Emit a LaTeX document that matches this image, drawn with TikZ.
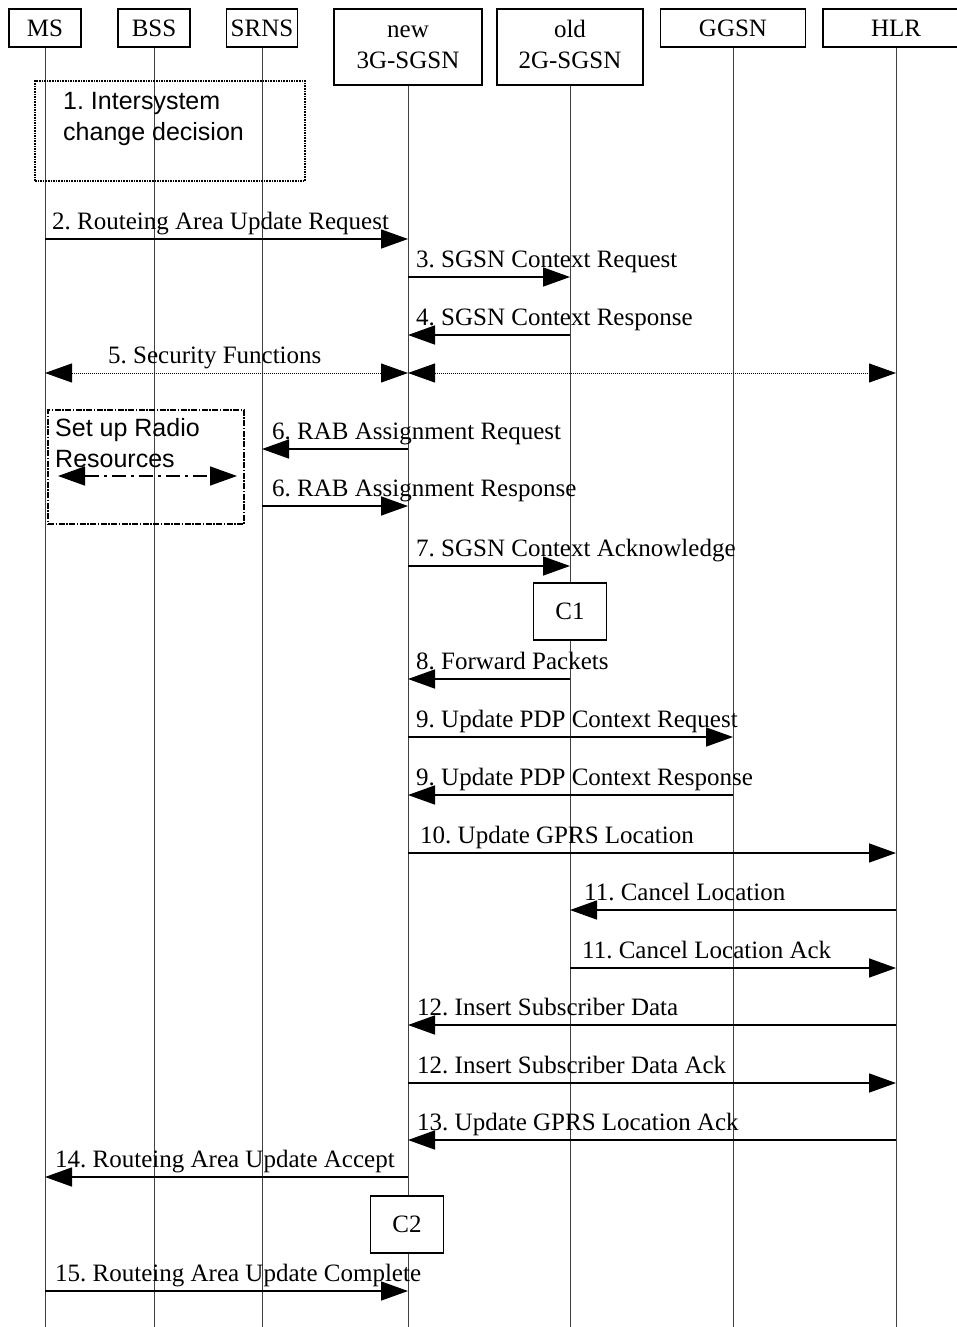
\documentclass[tikz,border=0pt]{standalone}
\usepackage{fontspec}
\setmainfont{Liberation Serif}
\newfontfamily\arialfont{Liberation Sans}
\usetikzlibrary{arrows.meta, positioning, calc}

\tikzset{
  actor/.style={draw, line width=1.6pt, fill=white, minimum height=38pt, align=center, inner sep=0pt},
  lifeline/.style={draw=black!75, line width=1pt},
  msg/.style={line width=1.6pt, -{Triangle[length=27pt, width=19pt]}},
  bothmsg/.style={line width=1pt, densely dotted, {Triangle[length=27pt, width=19pt]}-{Triangle[length=27pt, width=19pt]}},
  lbl/.style={inner sep=0pt, anchor=base west},
  cbox/.style={draw, line width=1.6pt, fill=white, minimum width=73pt, minimum height=57pt}
}

\begin{document}
\frenchspacing
\begin{tikzpicture}[x=1pt, y=-1pt, font=\fontsize{25}{31}\selectfont]
\clip (0,0) rectangle (957,1327);
\fill[white] (0,0) rectangle (957,1327);

% Network elements
\node[actor, minimum width=72pt] (ms) at (45,28) {MS};
\node[actor, minimum width=72pt] (bss) at (154,28) {BSS};
\node[actor, minimum width=71pt] (srns) at (262,28) {SRNS};
\node[actor, minimum width=148pt, minimum height=76pt] (nsgsn) at (408,47) {\strut new\\\strut 3G-SGSN};
\node[actor, minimum width=146pt, minimum height=76pt] (osgsn) at (570,47) {\strut old\\\strut 2G-SGSN};
\node[actor, minimum width=145pt] (ggsn) at (733,28) {GGSN};
\node[actor, minimum width=146pt] (hlr) at (896,28) {HLR};

% Life lines
\foreach \n in {ms,bss,srns,nsgsn,osgsn,ggsn,hlr} {
  \coordinate (\n-end) at (\n |- 0,1327);
  \draw[lifeline] (\n.south) -- (\n-end);
}

% 1. Intersystem change decision
\node[draw, line width=1.6pt, densely dotted, minimum width=270pt, minimum height=100pt] (decbox) at (170,131) {};
\node[inner sep=0pt, anchor=north west, align=left, font=\arialfont\fontsize{25}{31}\selectfont] (dectext) at (63,92) {1. Intersystem\\change decision};

% Set up Radio Resources
\node[draw, line width=1.4pt, dash pattern=on 6pt off 1.5pt on 1.5pt off 1.5pt, minimum width=196pt, minimum height=114pt] (radiobox) at (146,467) {};
\node[inner sep=0pt, anchor=north west, align=left, font=\arialfont\fontsize{25}{31}\selectfont] (radiotext) at (55,418) {Set up Radio\\Resources};
\coordinate (radioL) at (58,476);
\coordinate (radioR) at (237,476);
\draw[line width=1.6pt, dash pattern=on 14pt off 5pt on 3pt off 5pt,
  {Triangle[length=27pt, width=19pt]}-{Triangle[length=27pt, width=19pt]}] (radioL) -- (radioR);

% Messages: from/to/y/label x/label
\foreach \a/\b/\y/\lx/\t in {
  ms/nsgsn/239/52/{2. Routeing Area Update Request},
  nsgsn/osgsn/277/416/{3. SGSN Context Request},
  osgsn/nsgsn/335/416/{4. SGSN Context Response},
  nsgsn/srns/449/272/{6. RAB Assignment Request},
  srns/nsgsn/506/272/{6. RAB Assignment Response},
  nsgsn/osgsn/566/416/{7. SGSN Context Acknowledge},
  osgsn/nsgsn/679/416/{8. Forward Packets},
  nsgsn/ggsn/737/416/{9. Update PDP Context Request},
  ggsn/nsgsn/795/416/{9. Update PDP Context Response},
  nsgsn/hlr/853/420/{10. Update GPRS Location},
  hlr/osgsn/910/584/{11. Cancel Location},
  osgsn/hlr/968/582/{11. Cancel Location Ack},
  hlr/nsgsn/1025/417/{12. Insert Subscriber Data},
  nsgsn/hlr/1083/417/{12. Insert Subscriber Data Ack},
  hlr/nsgsn/1140/417/{13. Update GPRS Location Ack},
  nsgsn/ms/1177/55/{14. Routeing Area Update Accept},
  ms/nsgsn/1291/55/{15. Routeing Area Update Complete}} {
  \coordinate (m\y) at (0,\y);
  \draw[msg] (\a |- m\y) -- (\b |- m\y);
  \node[lbl] (l\y) at ({\lx},{\y-10}) {\t};
}

% 5. Security Functions
\coordinate (m373) at (0,373);
\draw[bothmsg] (ms |- m373) -- (nsgsn |- m373);
\draw[bothmsg] (nsgsn |- m373) -- (hlr |- m373);
\node[lbl] (l373) at (108,363) {5. Security Functions};

% C1 and C2
\node[cbox] (c1) at (570,611.5) {C1};
\node[cbox] (c2) at (407,1224.5) {C2};
\end{tikzpicture}
\end{document}
